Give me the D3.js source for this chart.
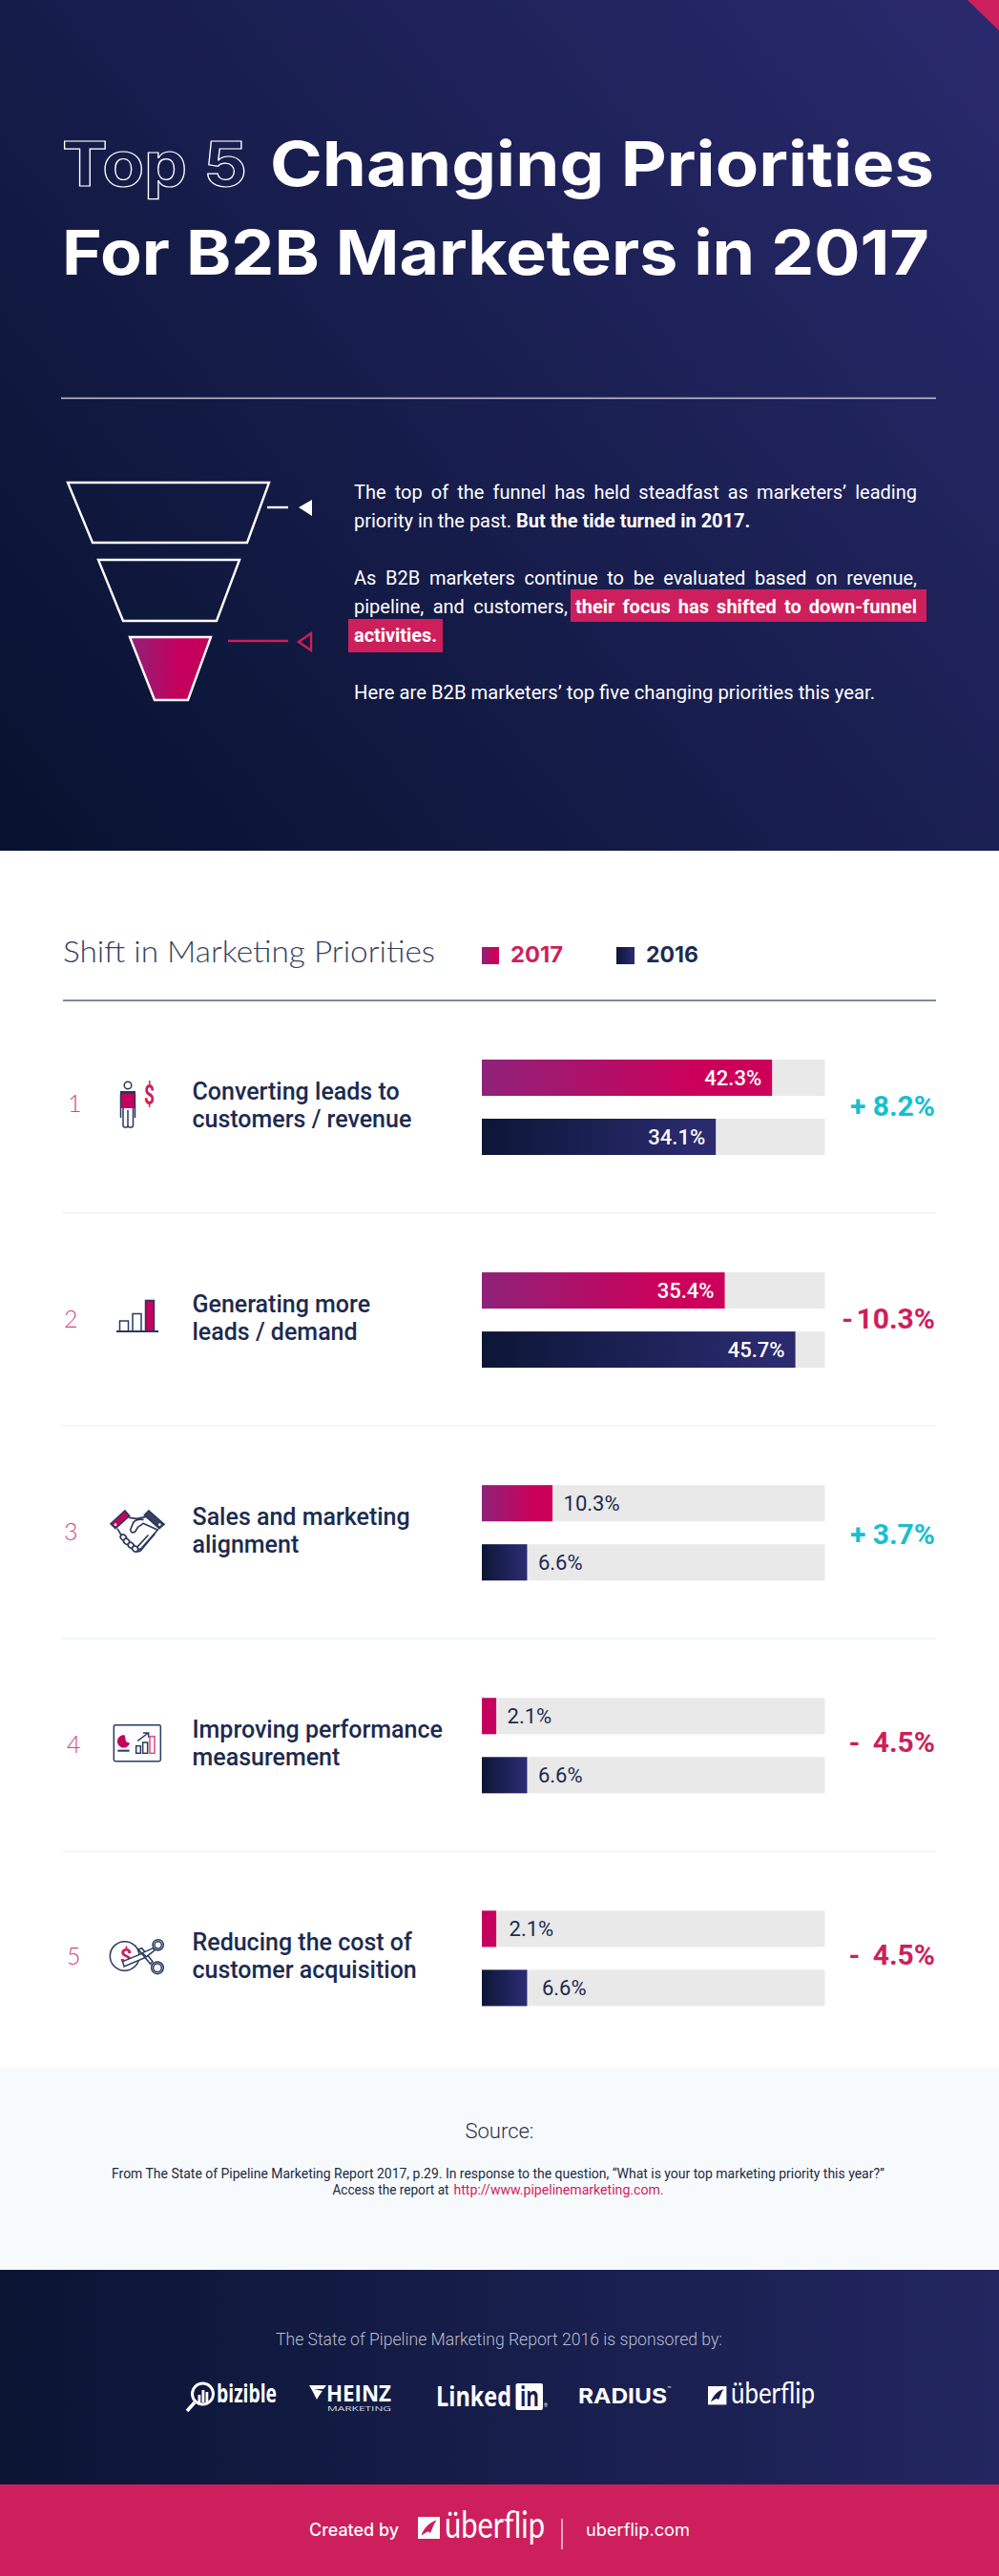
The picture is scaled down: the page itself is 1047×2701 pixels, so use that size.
<!DOCTYPE html>
<html><head><meta charset="utf-8">
<script src="https://cdn.jsdelivr.net/npm/d3@7"></script>
<style>html,body{margin:0;padding:0;background:#fff}svg{display:block}</style>
</head><body><div id="c"></div>
<script>
// ---- data ----
const ranks = [1, 2, 3, 4, 5];
const labelLine1 = ["Converting leads to", "Generating more", "Sales and marketing", "Improving performance", "Reducing the cost of"];
const labelLine2 = ["customers / revenue", "leads / demand", "alignment", "measurement", "customer acquisition"];
const values2017 = [42.3, 35.4, 10.3, 2.1, 2.1];
const values2016 = [34.1, 45.7, 6.6, 6.6, 6.6];
const deltaLabels = ["+ 8.2%", "- 10.3%", "+ 3.7%", "- 4.5%", "- 4.5%"];
const deltaUp = [true, false, true, false, false];
const legendYears = ["2017", "2016"];

const W = 1047, H = 2701;
const PINK = "#cd1f5c", NAVY = "#1c2b50", TEAL = "#17bfcf";
const svg = d3.select("#c").append("svg").attr("width", W).attr("height", H).attr("viewBox", `0 0 ${W} ${H}`);
const defs = svg.append("defs");
function grad(id, stops, attrs) {
  const g = defs.append("linearGradient").attr("id", id);
  Object.entries(attrs || {}).forEach(([k, v]) => g.attr(k, v));
  stops.forEach(([o, c]) => g.append("stop").attr("offset", o).attr("stop-color", c));
}
grad("hdr", [[0, "#07122f"], [1, "#2a2a6e"]], {gradientUnits: "userSpaceOnUse", x1: 0, y1: 892, x2: 1047, y2: 0});
grad("ftr", [[0, "#0a1534"], [1, "#232660"]]);
grad("p", [[0, "#8f2279"], [0.75, "#cc005a"]]);
grad("n", [[0, "#0c1636"], [0.9, "#2a2a6e"]]);

function T(parent, str, x, y, o = {}) {
  const t = parent.append("text").attr("x", x).attr("y", y).text(str)
    .attr("font-family", o.font || "Roboto").attr("font-size", o.size || 18)
    .attr("font-weight", o.weight || 400).attr("fill", o.fill || "#fff");
  if (o.anchor) t.attr("text-anchor", o.anchor);
  if (o.ws) t.attr("word-spacing", o.ws);
  if (o.stroke) t.attr("stroke", o.stroke).attr("stroke-width", o.sw || 1);
  if (o.fit) t.attr("textLength", o.fit).attr("lengthAdjust", "spacingAndGlyphs");
  if (o.just) {
    const n = str.trim().split(/\s+/).length - 1;
    t.attr("word-spacing", (o.just - t.node().getComputedTextLength()) / n);
  }
  return t;
}
const poly = (p, pts, o = {}) => p.append("polygon").attr("points", pts.map(d => d.join(",")).join(" "))
  .attr("fill", o.fill || "none").attr("stroke", o.stroke || "none").attr("stroke-width", o.sw || 0)
  .attr("stroke-linejoin", "miter");
const line = (p, x1, y1, x2, y2, c, w) => p.append("line").attr("x1", x1).attr("y1", y1).attr("x2", x2).attr("y2", y2).attr("stroke", c).attr("stroke-width", w);
const rect = (p, x, y, w, h, f) => p.append("rect").attr("x", x).attr("y", y).attr("width", w).attr("height", h).attr("fill", f);

// ---- header ----
const head = svg.append("g");
rect(head, 0, 0, W, 892, "url(#hdr)");
poly(head, [[1014, 0], [W, 0], [W, 32]], {fill: PINK});
T(head, "Top 5", 65, 195, {font: "Inter", weight: 700, size: 65, fill: "none", stroke: "#fff", sw: 1.2, fit: 194});
T(head, "Changing Priorities", 283, 195, {font: "Inter", weight: 700, size: 65, fit: 696});
T(head, "For B2B Marketers in 2017", 65, 288, {font: "Inter", weight: 700, size: 65, fit: 909});
line(head, 64, 417.5, 981, 417.5, "#c4c7d3", 1.5);

// funnel
const WHITE = {stroke: "#fff", sw: 2.4};
poly(head, [[71, 506], [282, 506], [259, 569], [97, 569]], WHITE);
poly(head, [[103, 587], [251, 587], [227, 651], [129, 651]], WHITE);
grad("fun", [[0, "#8f2279"], [0.6, "#c4005c"]]);
poly(head, [[136, 668], [221, 668], [197, 734], [162, 734]], {fill: "url(#fun)", stroke: "#fff", sw: 2.4});
line(head, 280, 532, 302, 532, "#fff", 2.4);
poly(head, [[313, 532], [327, 524], [327, 541]], {fill: "#fff"});
line(head, 239, 672, 302, 672, PINK, 2.4);
poly(head, [[313, 673], [326, 664], [326, 682]], {stroke: PINK, sw: 2.4});

// intro copy
const B = {size: 20};
T(head, "The top of the funnel has held steadfast as marketers’ leading", 371, 523, {...B, just: 590});
const l2 = head.append("text").attr("x", 371).attr("y", 553).attr("font-family", "Roboto").attr("font-size", 20).attr("fill", "#fff");
l2.append("tspan").text("priority in the past. ");
l2.append("tspan").attr("font-weight", 700).text("But the tide turned in 2017.");
T(head, "As B2B marketers continue to be evaluated based on revenue,", 371, 613, {...B, just: 590});
T(head, "pipeline, and customers,", 371, 643, {...B, just: 224});
rect(head, 598, 618, 373, 34, PINK);
rect(head, 365, 649, 99, 35, PINK);
T(head, "their focus has shifted to down-funnel", 603, 643, {...B, weight: 700, just: 358});
T(head, "activities.", 371, 673, {...B, weight: 700, fit: 87});
T(head, "Here are B2B marketers’ top five changing priorities this year.", 371, 733, {...B, fit: 546});

// ---- section heading & legend ----
const sec = svg.append("g");
T(sec, "Shift in Marketing Priorities", 66, 1009, {font: "Lato", weight: 300, size: 31, fill: "#33415f", fit: 390});
rect(sec, 505, 993, 18, 18, "url(#p)");
rect(sec, 646, 993, 19, 18, "url(#n)");
T(sec, legendYears[0], 535, 1009, {size: 22.5, weight: 700, fill: PINK, font: "Inter", fit: 55});
T(sec, legendYears[1], 677, 1009, {size: 22.5, weight: 700, fill: NAVY, font: "Inter", fit: 55});
line(sec, 66, 1049, 981, 1049, "#55647f", 1.5);

// ---- rows ----
const x = d3.scaleLinear().domain([0, 50]).range([505, 864.5]);
const rowY = d3.scaleBand().domain(ranks).range([1111, 1111 + 5 * 223.1]);
const BAR_H = 38, BAR2 = 62;
const deltaDy = [59, 59, 62, 57, 57];
const deltaWs = [0, -4, 0, 6, 6];
const rankDy = [55, 58, 58, 58, 57];
const rankX = [71, 67, 67, 70, 70];
const outsideNudge = [0, 0, 0, 0, 2];
const outsideNudge2 = [0, 0, 0, 0, 4];

const rows = sec.selectAll("g.row").data(ranks).join("g").attr("class", "row");
rows.each(function (r, i) {
  const g = d3.select(this), y0 = rowY(r);
  if (i > 0) line(g, 65, y0 - 62, 981, y0 - 62, "#eef3f6", 1.5);
  T(g, r, rankX[i], y0 + rankDy[i], {font: "Lato", weight: 300, size: 25, fill: "#d0497f"});
  T(g, labelLine1[i], 201.5, y0 + 41.5, {size: 25, weight: 500, fill: NAVY});
  T(g, labelLine2[i], 201.5, y0 + 71, {size: 25, weight: 500, fill: NAVY});
  T(g, deltaLabels[i], 980, y0 + deltaDy[i], {size: 30, weight: 700, fill: deltaUp[i] ? TEAL : PINK, anchor: "end", ws: deltaWs[i]});
  [[values2017[i], 0, "url(#p)", outsideNudge[i]], [values2016[i], BAR2, "url(#n)", outsideNudge2[i]]].forEach(([v, dy, fill, nudge]) => {
    rect(g, x(0), y0 + dy, x(50) - x(0), BAR_H, "#e9e9ea");
    rect(g, x(0), y0 + dy, x(v) - x(0), BAR_H, v < 3 ? "#c6005d" : fill);
    const inside = v > 20;
    T(g, v.toFixed(1) + "%", inside ? x(v) - 11 : x(v) + 11.5 + nudge, y0 + dy + 26.5,
      {size: 22, weight: 500 - (inside ? 0 : 100), fill: inside ? "#fff" : NAVY, anchor: inside ? "end" : "start"});
  });
});

// ---- row icons ----
const DK = "#2a3a5c";
const ic1 = sec.append("g").attr("fill", "none").attr("stroke", DK).attr("stroke-width", 1.5);
ic1.append("circle").attr("cx", 134).attr("cy", 1138).attr("r", 3.8);
rect(ic1, 126, 1144, 16, 3.5, DK).attr("stroke", "none");
rect(ic1, 126, 1147, 16, 15, "#c6005d").attr("stroke", "none");
ic1.append("path").attr("d", "M126.5 1147V1172M141.5 1147V1172M129 1162V1180Q129 1182 131 1182H132.5Q134 1182 134 1180V1164V1180Q134 1182 136 1182H137.5Q139.5 1182 139.5 1180V1162");
T(sec, "$", 151, 1158, {size: 29, weight: 700, fill: PINK, fit: 11});
const ic2 = sec.append("g").attr("fill", "none").attr("stroke", DK).attr("stroke-width", 1.5);
rect(ic2, 125.5, 1385, 9, 11, "none");
rect(ic2, 139, 1377.5, 9, 18.5, "none");
rect(ic2, 152.5, 1363.5, 9, 32.5, "#c6005d");
ic2.append("path").attr("d", "M122 1396H166").attr("stroke-width", 2);
const ic3 = sec.append("g").attr("transform", "translate(90,1560) scale(.3333)").attr("fill", "none").attr("stroke", DK).attr("stroke-width", 5).attr("stroke-linejoin", "round").attr("stroke-linecap", "round");
poly(ic3, [[123, 72], [137, 88], [93, 128], [78, 113]], {fill: "#c6005d", stroke: DK, sw: 5});
poly(ic3, [[198, 72], [246, 115], [231, 128], [184, 86]], {fill: "#39415f", stroke: DK, sw: 5});
ic3.append("circle").attr("cx", 93).attr("cy", 116).attr("r", 4).attr("fill", "#fff").attr("stroke", "none");
ic3.append("circle").attr("cx", 232).attr("cy", 116).attr("r", 4).attr("fill", "#fff").attr("stroke", "none");
ic3.append("path").attr("d", "M137 94L160 97L186 92M100 130L112 150M226 132L175 190Q165 198 160 188L195 150M205 158L172 198Q160 205 152 195M216 146L182 184M180 112L225 132M180 100Q155 97 148 112L140 132Q142 145 155 138L165 122Q175 118 180 112");
[[118, 156], [128, 169], [142, 181], [155, 192]].forEach(d => ic3.append("ellipse").attr("cx", d[0]).attr("cy", d[1]).attr("rx", 10).attr("ry", 8).attr("transform", `rotate(40 ${d[0]} ${d[1]})`).attr("fill", "#fff"));
const ic4 = sec.append("g").attr("transform", "translate(90,1780) scale(.3333)").attr("fill", "none").attr("stroke", DK).attr("stroke-width", 4.5);
ic4.append("rect").attr("x", 88).attr("y", 86).attr("width", 147).attr("height", 114).attr("rx", 5);
ic4.append("path").attr("d", "M122 118L126 138L138 143A20 20 0 1 1 122 118Z").attr("fill", "#c6005d").attr("stroke", "none");
line(ic4, 100, 167, 137, 167, DK, 6);
rect(ic4, 158, 152, 14, 23, "none");
rect(ic4, 179, 141, 15, 34, "none");
rect(ic4, 201, 122, 15, 53, "none").attr("stroke", "#e0487f");
ic4.append("path").attr("d", "M163 136L196 111M180 111H197V125");
const ic5 = sec.append("g").attr("transform", "translate(90,2000) scale(.3333)").attr("fill", "none").attr("stroke", DK).attr("stroke-width", 4.5);
ic5.append("circle").attr("cx", 122).attr("cy", 153).attr("r", 46);
T(ic5, "$", 107, 177, {size: 66, weight: 700, fill: PINK}).attr("stroke", "none");
poly(ic5, [[116, 170], [182, 143], [191, 156], [120, 186]], {fill: "#fff", stroke: DK, sw: 4.5});
poly(ic5, [[165, 132], [176, 128], [210, 170], [203, 178]], {fill: "#fff", stroke: DK, sw: 4.5});
poly(ic5, [[190, 155], [178, 143], [212, 128], [216, 135]], {fill: "#fff", stroke: DK, sw: 4.5});
[[227, 118, 17], [225, 190, 19]].forEach(d => {
  ic5.append("circle").attr("cx", d[0]).attr("cy", d[1]).attr("r", d[2]).attr("fill", "#fff");
  ic5.append("circle").attr("cx", d[0]).attr("cy", d[1]).attr("r", d[2] - 6);
});

// ---- source ----
const foot = svg.append("g");
rect(foot, 0, 2168, W, 212, "#f7fafd");
T(foot, "Source:", 523.5, 2242, {size: 22, weight: 300, fill: "#2a3345", anchor: "middle"});
T(foot, "From The State of Pipeline Marketing Report 2017, p.29. In response to the question, “What is your top marketing priority this year?”", 117, 2283.5, {size: 14, fill: "#1c2b40", fit: 810});
T(foot, "Access the report at", 348.5, 2300.5, {size: 14, fill: "#1c2b40", fit: 122});
T(foot, "http://www.pipelinemarketing.com.", 475.5, 2300.5, {size: 14, fill: PINK, fit: 220});

// ---- sponsors ----
rect(foot, 0, 2380, W, 225, "url(#ftr)");
T(foot, "The State of Pipeline Marketing Report 2016 is sponsored by:", 289, 2458.5, {size: 18, weight: 300, fill: "#b9bdcf", fit: 468});
// bizible
foot.append("circle").attr("cx", 212.5).attr("cy", 2510).attr("r", 11).attr("fill", "none").attr("stroke", "#fff").attr("stroke-width", 3);
line(foot, 204, 2519, 196, 2528, "#fff", 3.5);
[[207.5, 2511], [211.5, 2506], [215.5, 2508]].forEach(d => rect(foot, d[0], d[1], 2.8, 2519 - d[1], "#fff"));
T(foot, "bizible", 227, 2519, {font: "Open Sans", weight: 700, size: 27, fit: 63});
// heinz
poly(foot, [[324, 2501], [342, 2501], [339, 2505], [329, 2505], [338, 2507], [335, 2511], [332, 2516], [328, 2508]], {fill: "#fff"});
T(foot, "HEINZ", 342, 2518, {font: "Open Sans", weight: 700, size: 24, fit: 68});
T(foot, "MARKETING", 343, 2528, {font: "Open Sans", size: 7.5, fit: 67, fill: "#d8dae4"});
// linkedin
T(foot, "Linked", 457, 2523, {font: "Open Sans", weight: 700, size: 28, fit: 79});
foot.append("rect").attr("x", 540.5).attr("y", 2499).attr("width", 28.5).attr("height", 28).attr("rx", 2).attr("fill", "#fff");
T(foot, "in", 545, 2523, {font: "Open Sans", weight: 700, size: 28, fill: "#171d4c", fit: 20});
T(foot, "®", 570, 2524, {size: 5});
// radius
T(foot, "RADIUS", 606, 2520, {font: "Inter", weight: 700, size: 22, fit: 93});
T(foot, "™", 699, 2507, {size: 7});
function uber(p, bx, by, s, c) {
  const g = p.append("g").attr("transform", `translate(${bx},${by}) scale(${s})`);
  rect(g, 0, 0, 20, 20, "#fff");
  g.append("path").attr("d", "M3 17C5 11 10 5 17 3C14 7 13 12 11 15C10 12 8 14 3 17Z").attr("fill", c);
}
uber(foot, 742, 2502, 0.97, "#1a1e52");
T(foot, "überflip", 766, 2520, {font: "Lato", weight: 400, size: 30, fit: 88});

// ---- created by ----
rect(foot, 0, 2605, W, 96, PINK);
T(foot, "Created by", 324, 2659, {font: "Inter", weight: 500, size: 18, fit: 94});
uber(foot, 438, 2639, 1.15, PINK);
T(foot, "überflip", 466, 2661, {font: "Lato", weight: 400, size: 38, fit: 105});
line(foot, 589, 2641, 589, 2673, "#fff", 1.2);
T(foot, "uberflip.com", 614, 2659, {font: "Inter", weight: 400, size: 18, fit: 109});
</script></body></html>
